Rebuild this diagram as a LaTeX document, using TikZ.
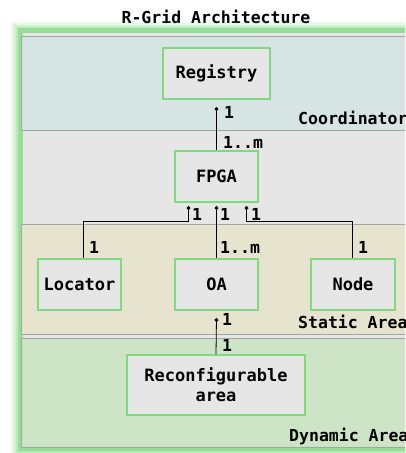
\documentclass[tikz,border=0pt]{standalone}
\usepackage{fontspec}
\setmonofont{DejaVu Sans Mono}
\usetikzlibrary{arrows.meta, positioning, calc}
\definecolor{glowgreen}{RGB}{150, 222, 150}
\definecolor{boxgreen}{RGB}{125, 218, 125}
\definecolor{boxgray}{RGB}{230, 230, 230}
\definecolor{coordfill}{RGB}{213, 229, 227}
\definecolor{staticfill}{RGB}{230, 227, 204}
\definecolor{dynfill}{RGB}{203, 229, 195}
\definecolor{areaborder}{RGB}{165, 165, 165}

\tikzset{
  unit/.style={draw=boxgreen, line width=1.6pt, fill=boxgray, align=center,
    font=\fontsize{17}{20}\ttfamily\bfseries},
  mult/.style={anchor=west, inner sep=0pt, font=\fontsize{16.5}{18}\ttfamily\bfseries},
  arealabel/.style={anchor=west, inner sep=0pt, font=\fontsize{16.5}{18}\ttfamily\bfseries},
  link/.style={line width=0.8pt, {Diamond[length=4.5pt, width=4pt]}-}
}

\begin{document}
\begin{tikzpicture}[x=1pt, y=1pt]
  \useasboundingbox (0,0) rectangle (405,453);
  \clip (0,0) rectangle (405,453);

  % ===== title =====
  \node[font=\fontsize{16.5}{18}\ttfamily\bfseries] (title) at (216,436) {R-Grid Architecture};

  % ===== outer frame with glow =====
  \foreach \w/\o in {20/0.1, 16/0.15, 12/0.25, 8/0.4} {
    \draw[glowgreen, line width=\w pt, opacity=\o] (20,4) rectangle (440,422);
  }
  \fill[boxgray] (20,4) rectangle (440,422);
  \draw[glowgreen, line width=5pt] (20,4) rectangle (440,422);

  % ===== areas =====
  \fill[coordfill, fill opacity=0.9] (21,323) rectangle (440,417);
  \draw[areaborder, thin] (21,323) rectangle (440,417);
  \fill[staticfill, fill opacity=0.9] (21,119) rectangle (440,229);
  \draw[areaborder, thin] (21,119) rectangle (440,229);
  \fill[dynfill, fill opacity=0.9] (21,6) rectangle (440,115);
  \draw[areaborder, thin] (21,6) rectangle (440,115);

  \node[arealabel] (coordlbl) at (298,335) {Coordinator};
  \node[arealabel] (staticlbl) at (298,131) {Static Area};
  \node[arealabel] (dynlbl) at (289,16) {Dynamic Area};

  % ===== units =====
  \node[unit, minimum width=107pt, minimum height=51pt] (reg) at (216.5,379.5) {Registry};
  \node[unit, minimum width=83pt, minimum height=51pt] (fpga) at (216.5,276.5) {FPGA};
  \node[unit, minimum width=83pt, minimum height=51pt] (loc) at (79.5,168.5) {Locator};
  \node[unit, minimum width=83pt, minimum height=51pt] (oa) at (216.5,168.5) {OA};
  \node[unit, minimum width=84pt, minimum height=51pt] (nd) at (353,168.5) {Node};
  \node[unit, minimum width=178pt, minimum height=60pt, inner sep=2pt] (reconf) at (216,68)
    {Reconfigurable\\area};

  % ===== connectors =====
  \draw[link] ([yshift=-7pt]reg.south) -- (fpga.north);
  \node[mult] (m1) at (224,341) {1};
  \node[mult] (m2) at (223,311) {1..m};

  \coordinate (fl) at ([xshift=-28pt, yshift=-3pt]fpga.south);
  \coordinate (fm) at ([yshift=-3pt]fpga.south);
  \coordinate (fr) at ([xshift=30pt, yshift=-3pt]fpga.south);
  \draw[link] (fl) -- ++(0,-16) -| ([xshift=3.5pt]loc.north);
  \draw[link] (fm) -- (oa.north);
  \draw[link] (fr) -- ++(0,-16) -| ([xshift=-1pt]nd.north);
  \node[mult] (m3) at (192,239) {1};
  \node[mult] (m4) at (220,239) {1};
  \node[mult] (m5) at (251,239) {1};
  \node[mult] (m6) at (89,206) {1};
  \node[mult] (m7) at (220,206) {1..m};
  \node[mult] (m8) at (358,206) {1};

  \draw[link] ([yshift=-7pt]oa.south) -- (reconf.north);
  \node[mult] (m9) at (222,134) {1};
  \node[mult] (m10) at (222,108) {1};
\end{tikzpicture}
\end{document}
